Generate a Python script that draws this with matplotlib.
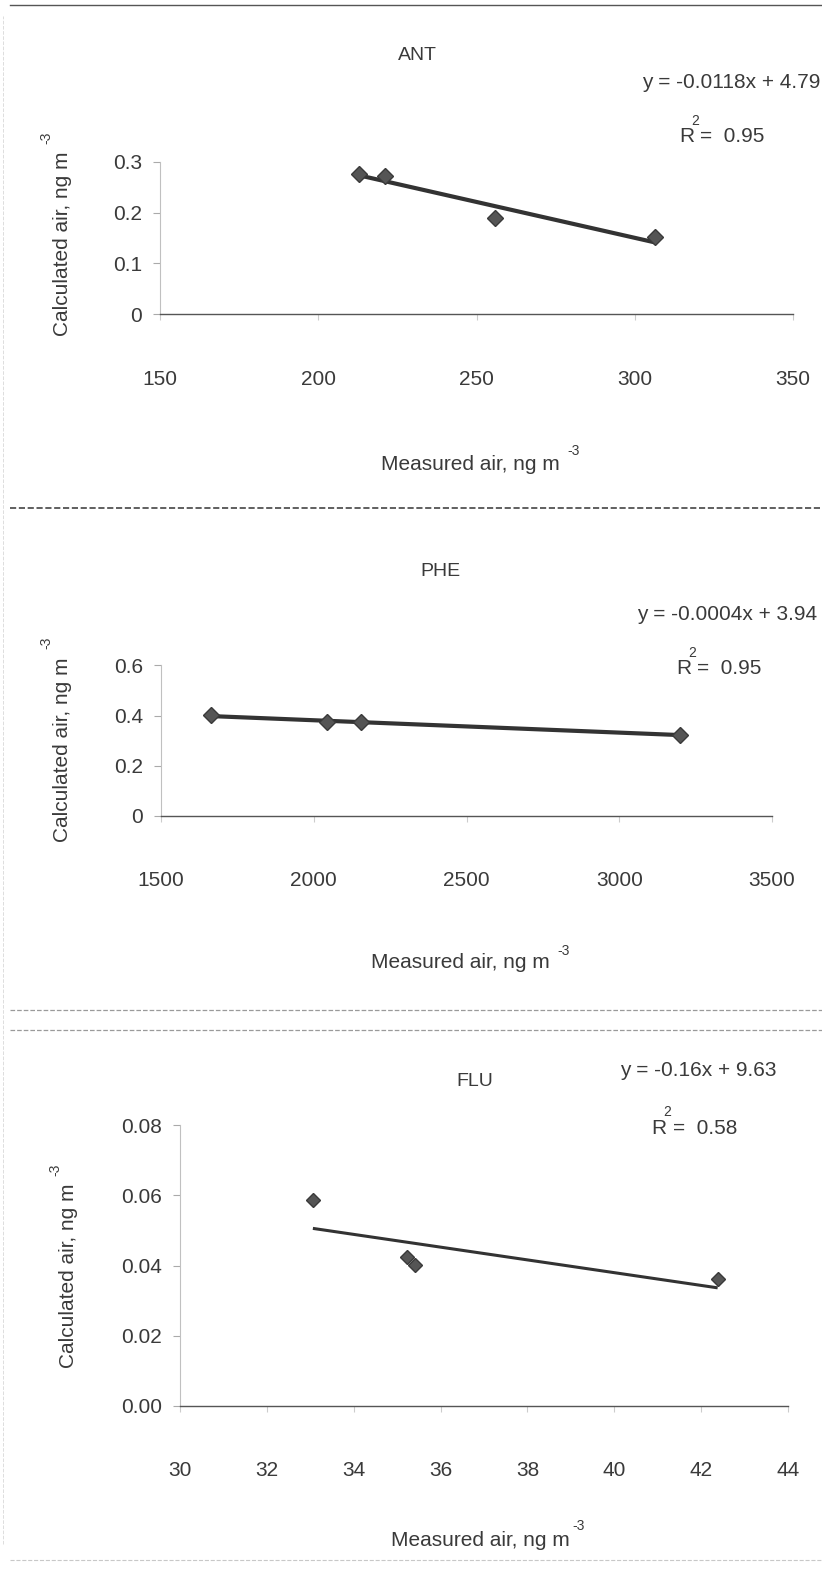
import numpy as np
import matplotlib.pyplot as plt

plt.rcParams['font.family'] = ['Liberation Sans', 'DejaVu Sans']

W, H = 822, 1575

# ANT
ant_x = [213, 221, 256, 306.5]
ant_y = [0.276, 0.272, 0.189, 0.151]
ant_xticks = [150, 200, 250, 300, 350]
ant_yticks = [0, 0.1, 0.2, 0.3]
ant_ylabels = ['0', '0.1', '0.2', '0.3']

# PHE
phe_x = [1664, 2045, 2156, 3198]
phe_y = [0.401, 0.373, 0.375, 0.323]
phe_xticks = [1500, 2000, 2500, 3000, 3500]
phe_yticks = [0, 0.2, 0.4, 0.6]
phe_ylabels = ['0', '0.2', '0.4', '0.6']

# FLU
flu_x = [33.06, 35.22, 35.4, 42.38]
flu_y = [0.0586, 0.0423, 0.0401, 0.0362]
flu_xticks = [30, 32, 34, 36, 38, 40, 42, 44]
flu_yticks = [0, 0.02, 0.04, 0.06, 0.08]
flu_ylabels = ['0.00', '0.02', '0.04', '0.06', '0.08']

fig = plt.figure(figsize=(W / 100, H / 100), dpi=100)
fig.patch.set_facecolor('white')


def ftext(x, y, s, **kw):
    # place text using pixel coords of the page (origin top-left)
    return fig.text(x / W, 1 - y / H, s, **kw)


def make_panel(left, right, ybot, ytop, xdata, ydata, xticks, yticks, ylabels,
               lw, ms):
    ax = fig.add_axes([left / W, 1 - ybot / H, (right - left) / W, (ybot - ytop) / H])
    ax.set_xlim(xticks[0], xticks[-1])
    ax.set_ylim(yticks[0], yticks[-1])
    ax.set_facecolor('none')
    for s in ['top', 'right']:
        ax.spines[s].set_visible(False)
    ax.spines['left'].set_color('#c0c0c0')
    ax.spines['left'].set_linewidth(0.8)
    ax.spines['bottom'].set_color('#555555')
    ax.spines['bottom'].set_linewidth(1.0)
    ax.set_xticks(xticks)
    ax.set_xticklabels([str(t) for t in xticks])
    ax.set_yticks(yticks)
    ax.set_yticklabels(ylabels)
    ax.tick_params(axis='x', length=4, color='#cccccc', pad=36, labelsize=15,
                   labelcolor='#3a3a3a')
    ax.tick_params(axis='y', length=5, color='#aaaaaa', pad=8, labelsize=15,
                   labelcolor='#3a3a3a')
    # linear trend line fitted to the points
    k, b = np.polyfit(xdata, ydata, 1)
    xs = np.array([min(xdata), max(xdata)])
    ax.plot(xs, k * xs + b, color='#333333', lw=lw, solid_capstyle='butt', zorder=2,
            clip_on=False)
    ax.plot(xdata, ydata, linestyle='none', marker='D', ms=ms, color='#555555',
            markeredgecolor='#3a3a3a', zorder=3, clip_on=False)
    return ax


make_panel(160, 793, 314.4, 161.6, ant_x, ant_y, ant_xticks, ant_yticks, ant_ylabels, 3.0, 8.5)
make_panel(161, 772, 815.9, 665.3, phe_x, phe_y, phe_xticks, phe_yticks, phe_ylabels, 3.0, 8)
make_panel(180, 788, 1405.7, 1125.3, flu_x, flu_y, flu_xticks, flu_yticks, flu_ylabels, 2.2, 7.5)

tc = '#3a3a3a'
# titles
ftext(417, 56, 'ANT', fontsize=14, ha='center', va='center', color=tc)
ftext(440, 571.5, 'PHE', fontsize=14, ha='center', va='center', color=tc)
ftext(474.5, 1081, 'FLU', fontsize=14, ha='center', va='center', color=tc)

# trend equations
eqs = [(820, 82, 'y = -0.0118x + 4.79', 679, 137, '=  0.95'),
       (817, 614.6, 'y = -0.0004x + 3.94', 676, 669, '=  0.95'),
       (777, 1070.7, 'y = -0.16x + 9.63', 651.6, 1128, '=  0.58')]
for ex, ey, eq, rx, ry, rv in eqs:
    ftext(ex, ey, eq, fontsize=15, ha='right', va='center', color=tc)
    ftext(rx, ry, 'R', fontsize=15, ha='left', va='center', color=tc)
    ftext(rx + 12, ry - 16, '2', fontsize=10, ha='left', va='center', color=tc)
    ftext(rx + 21, ry, rv, fontsize=15, ha='left', va='center', color=tc)

# axis titles with raised exponent
xlabs = [(470, 465, 574, 451), (460, 963, 564, 951), (480, 1540, 579, 1526)]
for cx, cy, sx, sy in xlabs:
    ftext(cx, cy, 'Measured air, ng m', fontsize=15, ha='center', va='center', color=tc)
    ftext(sx, sy, '-3', fontsize=10, ha='center', va='center', color=tc)

ylabs = [(62, 243.5, 46, 138), (62, 750, 46, 643), (68, 1276, 55, 1170)]
for cx, cy, sx, sy in ylabs:
    ftext(cx, cy, 'Calculated air, ng m', fontsize=15, ha='center', va='center',
          rotation=90, color=tc)
    ftext(sx, sy, '-3', fontsize=10, ha='center', va='center', rotation=90, color=tc)

# page separators from the scanned layout
seps = [(5, '#555555', '-', 1.0), (508, '#444444', '--', 1.2),
        (1010, '#9a9a9a', '--', 0.9), (1030, '#9a9a9a', '--', 0.9),
        (1560, '#c8c8c8', '--', 0.8)]
for yy, c, ls, w in seps:
    fig.add_artist(plt.Line2D([10 / W, 1], [1 - yy / H, 1 - yy / H], color=c,
                              linestyle=ls, lw=w))
fig.add_artist(plt.Line2D([3 / W, 3 / W], [0.02, 0.99], color='#dddddd',
                          linestyle='--', lw=0.7))

fig.savefig('out.png', dpi=100)
